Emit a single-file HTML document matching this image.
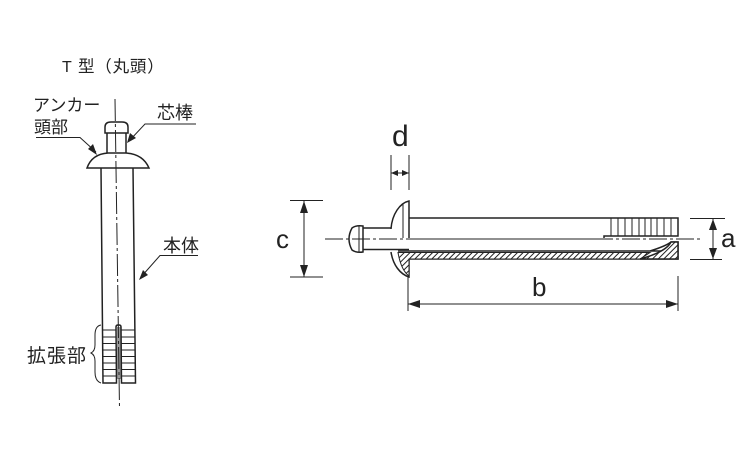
<!DOCTYPE html>
<html><head><meta charset="utf-8"><style>
html,body{margin:0;padding:0;background:#fff}
svg{display:block}
text{font-family:"Liberation Sans","Noto Sans CJK JP",sans-serif;fill:#222}
</style></head><body>
<svg width="750" height="450" viewBox="0 0 750 450" xmlns="http://www.w3.org/2000/svg">
<defs>
<pattern id="h" width="4" height="4" patternUnits="userSpaceOnUse" patternTransform="rotate(45)"><rect width="4" height="4" fill="#fff"/><line x1="0" y1="0" x2="0" y2="4" stroke="#222" stroke-width="2"/></pattern>
</defs>
<text x="62" y="72" font-size="16">T</text>
<text x="78" y="72" font-size="16.500" letter-spacing="0.800">型（丸頭）</text>
<text x="33" y="111" font-size="17">アンカー</text>
<text x="34" y="133" font-size="17">頭部</text>
<text x="157" y="119" font-size="18">芯棒</text>
<text x="163" y="252" font-size="18">本体</text>
<text x="27" y="362" font-size="19" letter-spacing="1">拡張部</text>
<text x="392" y="146" font-size="30">d</text>
<text x="276" y="248" font-size="26">c</text>
<text x="721" y="247" font-size="26">a</text>
<text x="532" y="296" font-size="26">b</text>
<rect x="117" y="327" width="4" height="52" fill="#999"/>
<g fill="none" stroke="#222" stroke-width="1.500">
<!-- left anchor -->
<path d="M107 133V153M126 133V153"/>
<path d="M105 133V127Q105 122 111 122H122Q128 122 128 127V133Z"/>
<path d="M87 168Q92 154 108 153H126Q143 154 149 168Z"/>
<path d="M101 168L103 383H116.500L116 327Q116 325 118 325H119Q121 325 121 327L121.500 383H135.500L133 168"/>
<path stroke-width="1" d="M103 330H116M103 337H116M103 343.500H116M103 350H116M103 356.500H116M103 363H116M103 369.500H116M103 376H116M121.500 330H135M121.500 337H135M121.500 343.500H135M121.500 350H135M121.500 356.500H135M121.500 363H135M121.500 369.500H135M121.500 376H135"/>
<path stroke-width="1" stroke-dasharray="22 3 3 3" d="M115 99L119.500 408"/>
<path stroke-width="1" d="M101 325Q95 326 95 335V345Q95 351 91 353Q95 355 95 361V372Q95 381 101 383"/>
<!-- leaders -->
<path stroke-width="1" d="M36 137.500H80L96 152M196 124H145L130 140M198 255.500H160L141 277"/>
<!-- right anchor -->
<path d="M352 228Q356 225 363 226V252Q356 253 352 250Q346 239 352 228Z"/>
<path d="M363 228H391M363 249.500H409"/>
<path d="M391 229C392 214 400 203 409 201V238M409 218H678V236H604V238"/>
<path d="M391 252C393 265 400 274 409 277V252"/>
<path d="M398 251H670M409 259H678V242H671Q666 246 650 251"/>
<path stroke-width="1" d="M359 226V252M403 204V238M604 239H410M611 218V236M618 218V236M625 218V236M632 218V236M639 218V236M645 218V236M651 218V236M657 218V236M664 218V236M671 218V236"/>
<path stroke-width="1" stroke-dasharray="18 3 3 3" d="M325 239H702"/>
<!-- dims -->
<path stroke-width="1" d="M290 200.500H323M290 277H323M304 201V277M391 155V190M409 155V190M391 173H409M690 218.500H725M690 259.500H722M713 219V259M408 276V311M678 276V311M408 304H678"/>
</g>
<path d="M127 143L130 133 136 138Z M97 155L88 149 93 144Z M139 280L143 270 148 275Z" fill="#222"/>
<path d="M398 252.500H650L640 259H409V276Q401 270 398 252.500Z" fill="url(#h)" stroke="#222" stroke-width="1"/>
<path d="M640 259Q666 252 671 242H678V259Z" fill="url(#h)" stroke="#222" stroke-width="1.500"/>
<g fill="#222">
<path d="M304 201L300 213H308ZM304 277L300 265H308Z"/>
<path d="M713 219L709 230H717ZM713 259L709 248H717Z"/>
<path d="M408 304L420 300V308ZM678 304L666 300V308Z"/>
<path d="M391 173L398 170V176ZM409 173L402 170V176Z"/>
</g>
</svg>
</body></html>
